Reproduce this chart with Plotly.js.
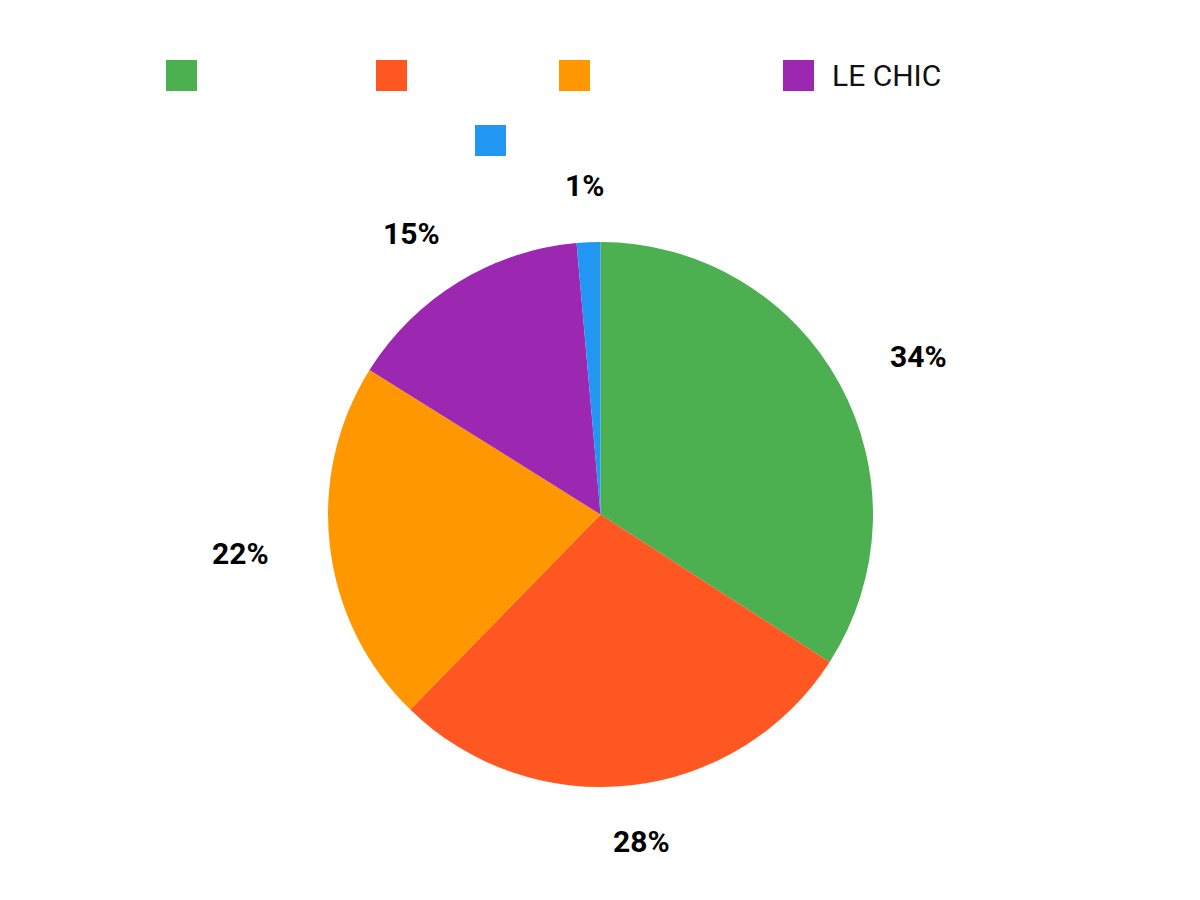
<!DOCTYPE html>
<html>
<head>
<meta charset="utf-8">
<script src="https://cdn.plot.ly/plotly-3.0.1.min.js"></script>
<style>
  html, body { margin: 0; padding: 0; background: white; }
  #myDiv { width: 1200px; height: 900px; }
</style>
</head>
<body>
<div id="myDiv"></div>
<script>
// slices, clockwise from 12 o'clock
var labels = [" ", "  ", "   ", "LE CHIC", "    "];
var values = [34.1, 28.2, 21.6, 14.7, 1.4];
var colors = ["#4CAF50", "#FF5722", "#FF9800", "#9C27B0", "#2196F3"];
var pctText = ["34%", "28%", "22%", "15%", "1%"];

// legend boxes (left px, top px) - layout only
var legendX = [166, 376, 559, 783, 475];
var legendY = [60, 60, 60, 60, 125];

var W = 1200, H = 900;
var cx = 600.5, cy = 514.5, R = 272.5;

var data = [{
    type: "pie",
    labels: labels,
    values: values,
    sort: false,
    direction: "clockwise",
    rotation: 0,
    textinfo: "none",
    marker: { colors: colors, line: { width: 0 } },
    domain: {
        x: [(cx - R) / W, (cx + R) / W],
        y: [1 - (cy + R) / H, 1 - (cy - R) / H],
    },
    showlegend: false,
    hoverinfo: "label+percent",
}];

// percent labels outside, on an ellipse round the pie at each slice's middle angle
var total = values.reduce(function (a, b) { return a + b; }, 0);
var rx = R + 90, ry = R + 57;
var annotations = [];
var cum = 0;
values.forEach(function (v, i) {
    var mid = (cum + v / 2) / total * 2 * Math.PI;
    cum += v;
    annotations.push({
        xref: "paper", yref: "paper",
        x: (cx + rx * Math.sin(mid)) / W,
        y: 1 - (cy - ry * Math.cos(mid)) / H,
        text: "<b>" + pctText[i] + "</b>",
        showarrow: false,
        xanchor: "center", yanchor: "middle",
        font: { family: "Roboto", size: 30, color: "#000" },
    });
});

// custom legend: big square swatches
var shapes = [];
labels.forEach(function (lab, i) {
    shapes.push({
        type: "rect", xref: "paper", yref: "paper",
        x0: legendX[i] / W, x1: (legendX[i] + 31) / W,
        y0: 1 - (legendY[i] + 31) / H, y1: 1 - legendY[i] / H,
        fillcolor: colors[i], line: { width: 0 },
    });
    if (lab.trim()) {
        annotations.push({
            xref: "paper", yref: "paper",
            x: (legendX[i] + 47) / W,
            y: 1 - (legendY[i] + 15.5) / H,
            text: lab,
            showarrow: false,
            xanchor: "left", yanchor: "middle",
            font: { family: "Roboto", size: 30, color: "#111" },
        });
    }
});

var layout = {
    width: W,
    height: H,
    margin: { l: 0, r: 0, t: 0, b: 0 },
    paper_bgcolor: "white",
    plot_bgcolor: "white",
    showlegend: false,
    annotations: annotations,
    shapes: shapes,
};

Plotly.newPlot("myDiv", data, layout, { displayModeBar: false });
</script>
</body>
</html>
